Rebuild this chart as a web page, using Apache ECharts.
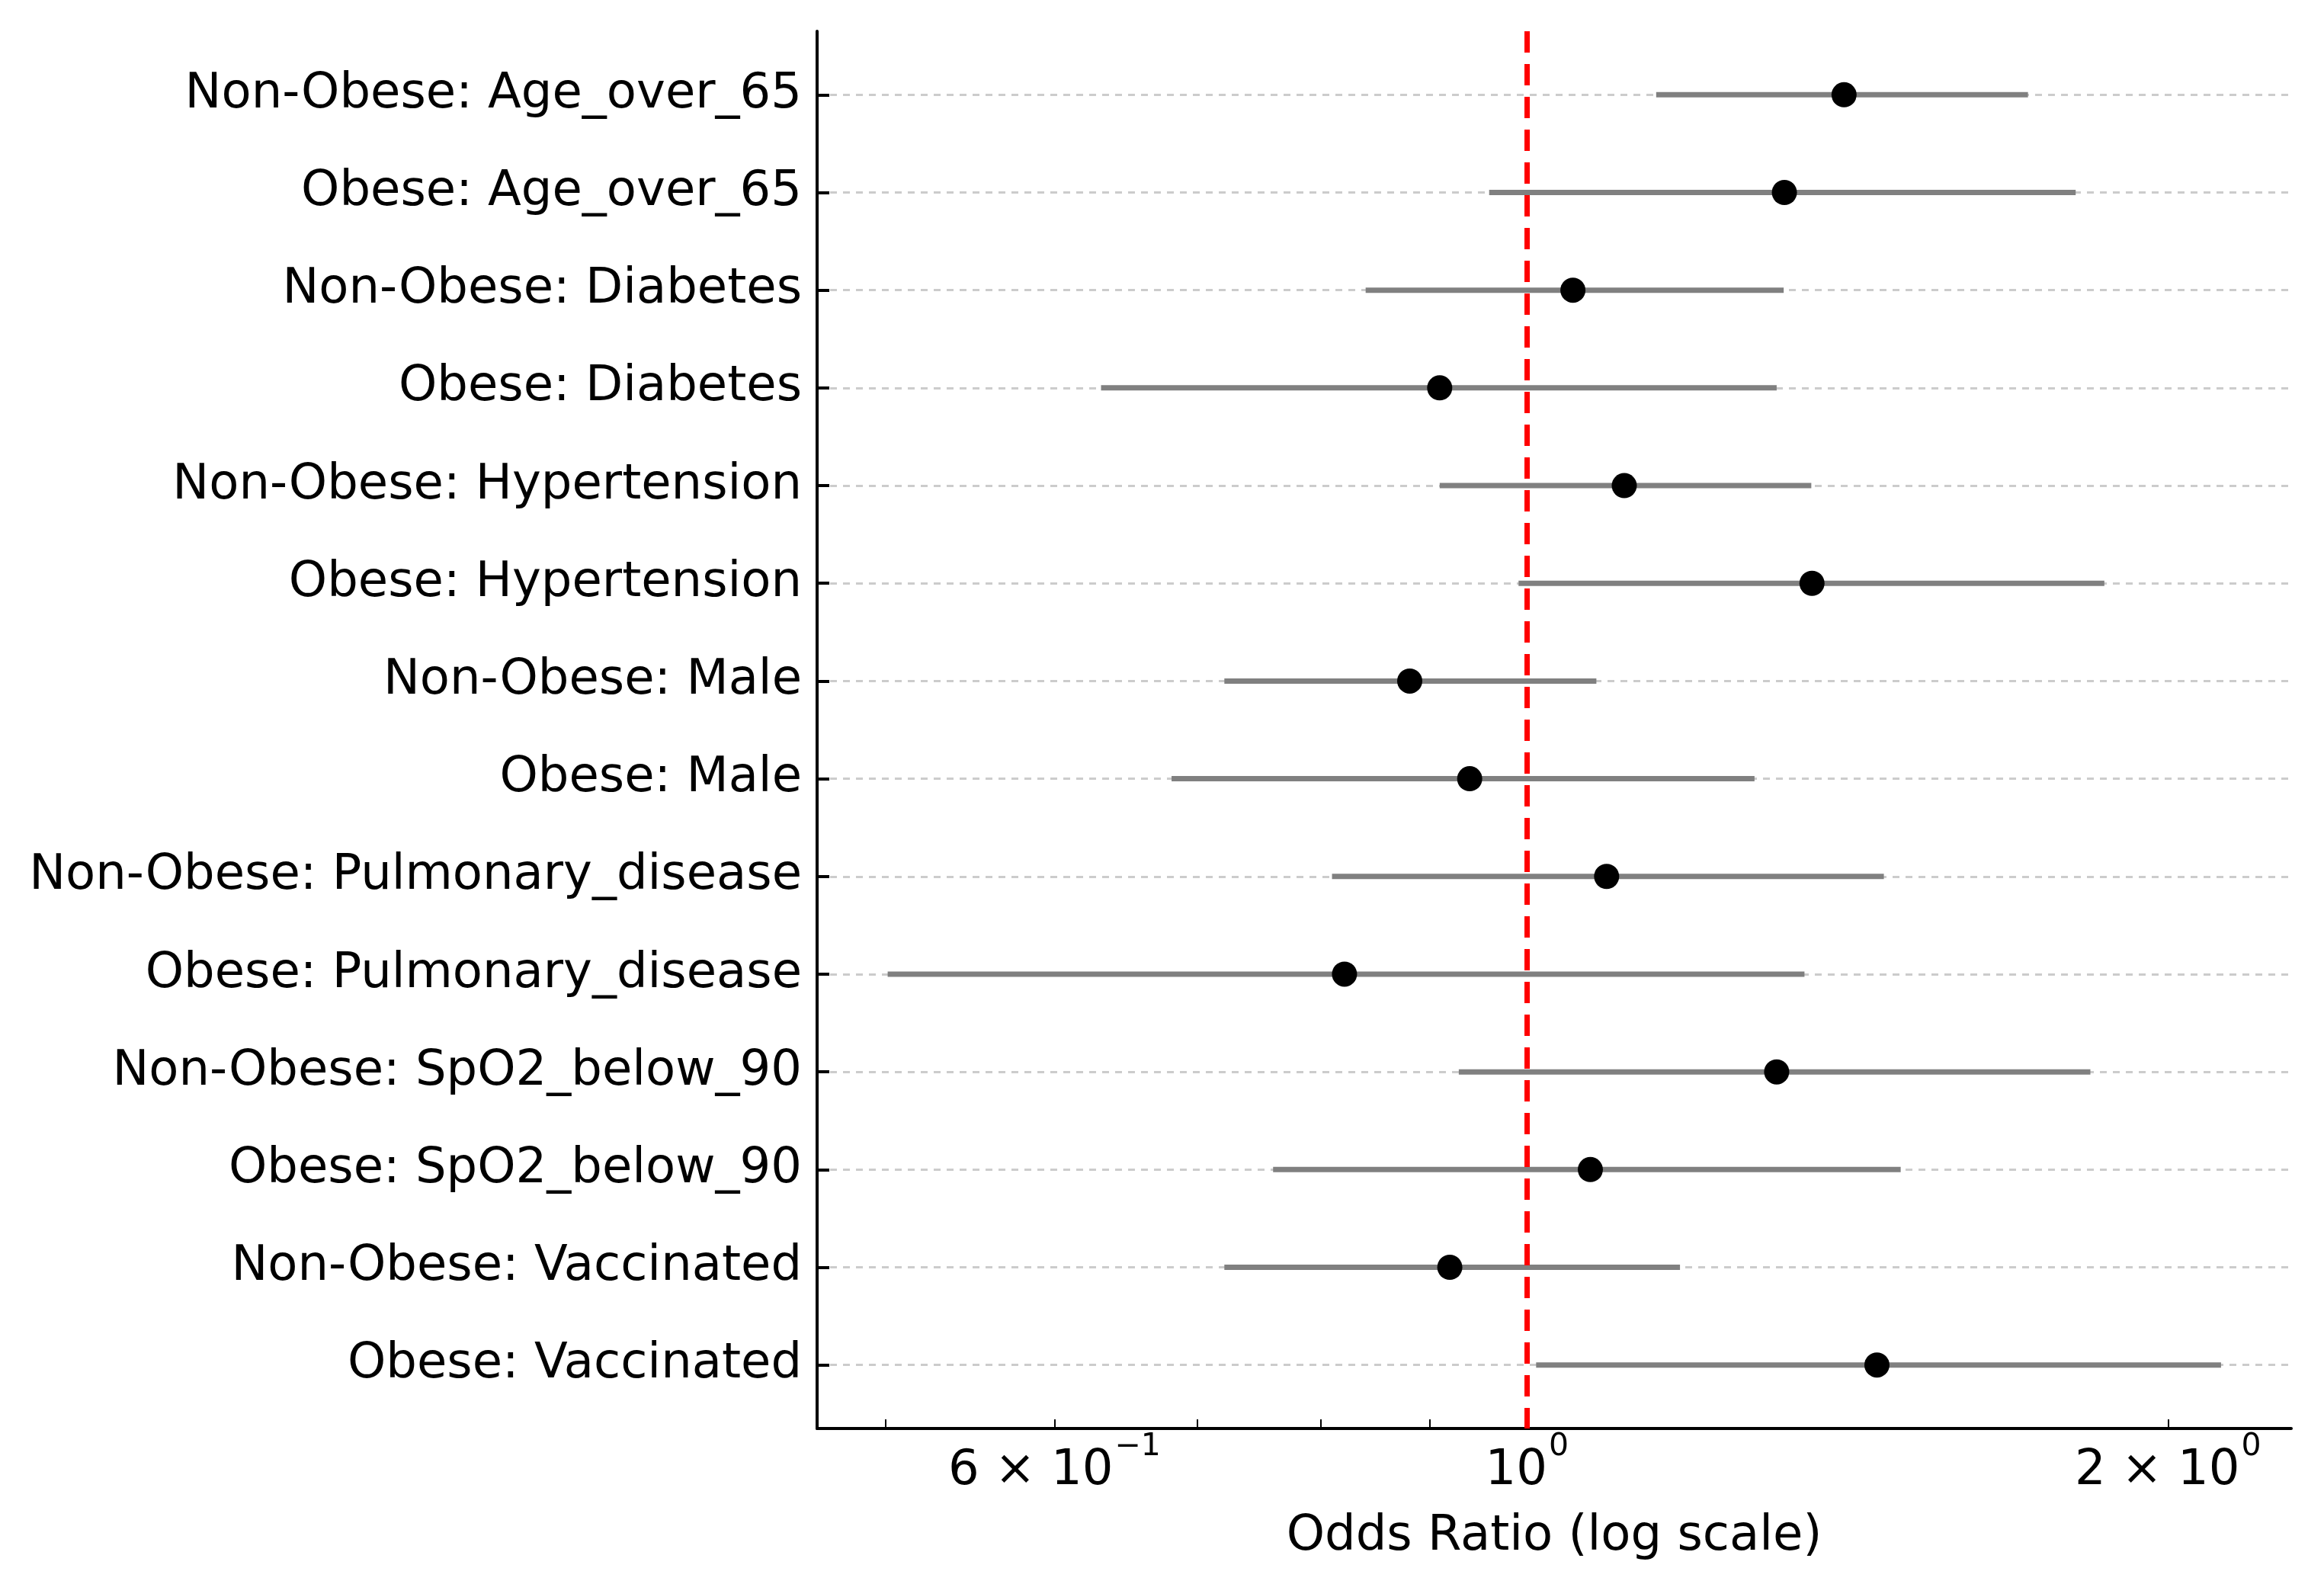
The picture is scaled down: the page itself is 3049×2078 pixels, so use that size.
<!DOCTYPE html>
<html><head><meta charset="utf-8">
<script src="https://cdn.jsdelivr.net/npm/echarts@6/dist/echarts.min.js"></script>
<style>html,body{margin:0;padding:0;background:#fff}#c{width:3049px;height:2078px}</style>
</head><body><div id="c"></div>
<script>
const categories = [
  'Non-Obese: Age_over_65', 'Obese: Age_over_65',
  'Non-Obese: Diabetes', 'Obese: Diabetes',
  'Non-Obese: Hypertension', 'Obese: Hypertension',
  'Non-Obese: Male', 'Obese: Male',
  'Non-Obese: Pulmonary_disease', 'Obese: Pulmonary_disease',
  'Non-Obese: SpO2_below_90', 'Obese: SpO2_below_90',
  'Non-Obese: Vaccinated', 'Obese: Vaccinated'
];
const oddsRatio = [1.409, 1.321, 1.051, 0.910, 1.111, 1.361, 0.881, 0.940, 1.090, 0.821, 1.310, 1.071, 0.920, 1.460];
const ciLow     = [1.150, 0.960, 0.840, 0.631, 0.910, 0.991, 0.721, 0.681, 0.810, 0.501, 0.929, 0.760, 0.721, 1.010];
const ciHigh    = [1.719, 1.810, 1.320, 1.310, 1.360, 1.867, 1.078, 1.279, 1.471, 1.350, 1.839, 1.498, 1.180, 2.118];
const xTickValues = [0.5, 0.6, 0.7, 0.8, 0.9, 1, 2];
const xLabelValues = [0.6, 1, 2];
const xLabelMantissa = ['6 × 10', '10', '2 × 10'];
const xLabelExponent = ['−1', '0', '0'];
const xMin = 0.4642, xMax = 2.285;
const refValue = 1;

const lg = v => Math.log10(v);
const FONT = 'DejaVu Sans';
const idx = categories.map((_, i) => i);

const chart = echarts.init(document.getElementById('c'), null, {renderer: 'canvas'});
chart.setOption({
  animation: false,
  backgroundColor: '#ffffff',
  grid: {left: 1072, right: 43, top: 41, bottom: 204, containLabel: false},
  xAxis: {
    type: 'value',
    min: lg(xMin), max: lg(xMax),
    name: 'Odds Ratio (log scale)',
    nameLocation: 'middle',
    nameGap: 110,
    nameTextStyle: {fontFamily: FONT, fontSize: 64, color: '#000'},
    axisLine: {show: true, onZero: false, lineStyle: {color: '#000', width: 4}},
    axisTick: {show: true, inside: true, length: 12, lineStyle: {color: '#000', width: 2},
               customValues: xTickValues.map(lg)},
    axisLabel: {
      show: true, margin: 4, color: '#000',
      customValues: xLabelValues.map(lg),
      formatter: v => {
        let best = 0, d = Infinity;
        xLabelValues.forEach((x, i) => { const dd = Math.abs(lg(x) - v); if (dd < d) { d = dd; best = i; } });
        return '{m|' + xLabelMantissa[best] + '}{s|' + xLabelExponent[best] + '}';
      },
      rich: {
        m: {fontFamily: FONT, fontSize: 64, color: '#000', lineHeight: 84, verticalAlign: 'bottom'},
        s: {fontFamily: FONT, fontSize: 41, color: '#000', lineHeight: 41, verticalAlign: 'top', padding: [0, 0, 0, 2]}
      }
    },
    splitLine: {show: false}
  },
  yAxis: {
    type: 'value',
    inverse: true,
    min: -0.65, max: 13.65,
    axisLine: {show: true, onZero: false, lineStyle: {color: '#000', width: 4}},
    axisTick: {show: true, inside: true, length: 16, lineStyle: {color: '#000', width: 4},
               customValues: idx},
    axisLabel: {
      show: true, margin: 20, fontFamily: FONT, fontSize: 64, color: '#000',
      padding: [6, 0, 0, 0],
      customValues: idx,
      formatter: v => categories[Math.round(v)] || ''
    },
    splitLine: {show: true, lineStyle: {color: '#cccccc', width: 3, type: [9, 8]}}
  },
  series: [
    {
      type: 'custom',
      name: 'CI',
      data: categories.map((_, i) => [lg(ciLow[i]), lg(ciHigh[i]), i]),
      encode: {x: [0, 1], y: 2},
      renderItem: (params, api) => {
        const a = api.coord([api.value(0), api.value(2)]);
        const b = api.coord([api.value(1), api.value(2)]);
        return {type: 'line', shape: {x1: a[0], y1: a[1], x2: b[0], y2: b[1]},
                style: {stroke: '#808080', lineWidth: 7}};
      },
      z: 2
    },
    {
      type: 'scatter',
      name: 'OR',
      data: categories.map((_, i) => [lg(oddsRatio[i]), i]),
      symbol: 'circle',
      symbolSize: 33,
      itemStyle: {color: '#000000', opacity: 1},
      z: 4,
      markLine: {
        silent: true,
        symbol: ['none', 'none'],
        label: {show: false},
        lineStyle: {color: '#ff0000', width: 7, type: [28, 15], opacity: 1},
        data: [{xAxis: lg(refValue)}],
        z: 3
      }
    }
  ]
});
</script>
</body></html>
